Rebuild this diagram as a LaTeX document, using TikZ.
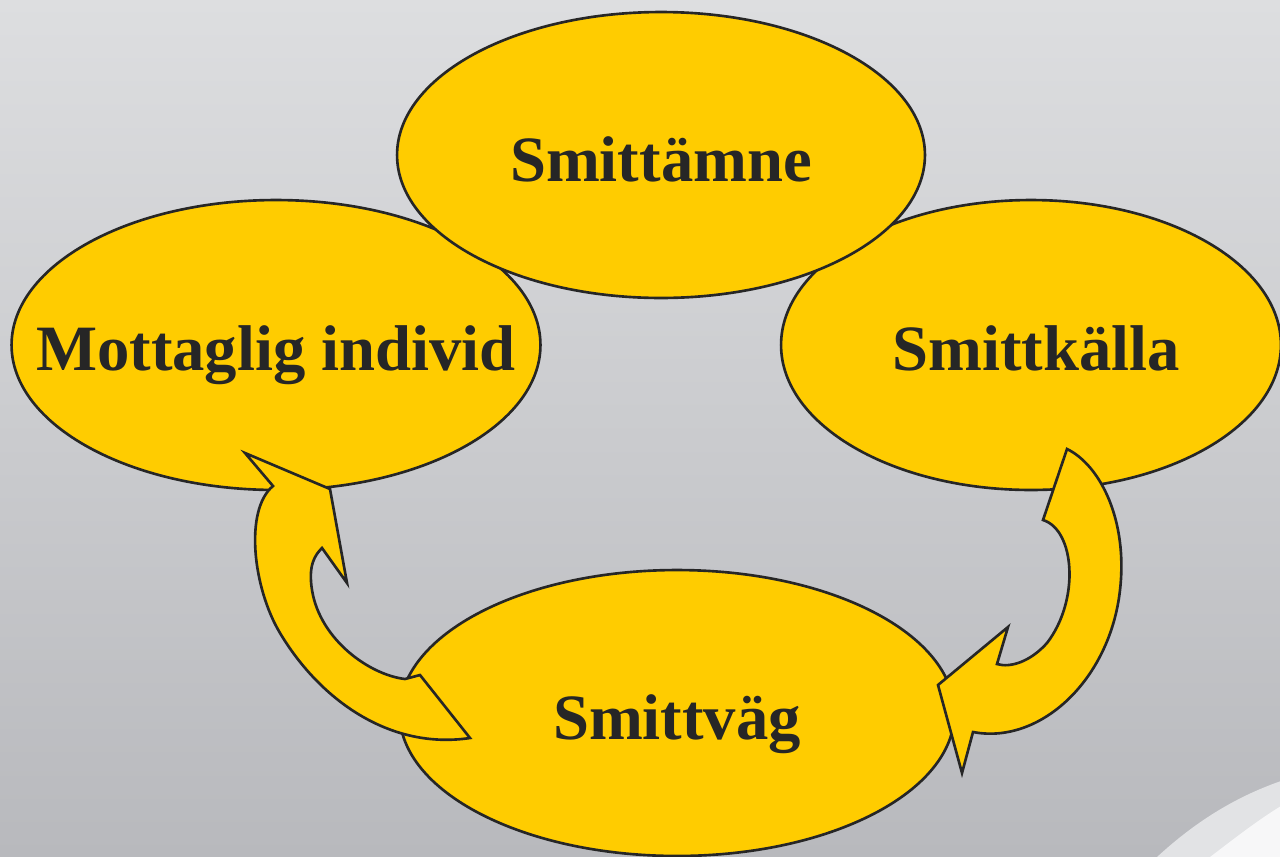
\documentclass[tikz,border=0pt]{standalone}
\usepackage{fontspec}
\setmainfont{Liberation Serif}
\usetikzlibrary{shapes.geometric}
\definecolor{bgtop}{RGB}{221,222,224}
\definecolor{bgbot}{RGB}{184,185,189}
\definecolor{band}{RGB}{226,227,229}
\definecolor{swhite}{RGB}{247,247,248}
\definecolor{gold}{RGB}{255,204,0}
\definecolor{ink}{RGB}{38,38,38}
\begin{document}
\begin{tikzpicture}[x=0.02cm,y=-0.02cm,
  blob/.style={ellipse, draw=ink, fill=gold, line width=1.5pt, inner sep=0pt},
  lbl/.style={anchor=base, text=ink, font=\fontsize{36.8}{40}\selectfont\bfseries, inner sep=0pt},
  arrowshape/.style={draw=ink, fill=gold, line width=1.5pt, line join=miter}]
\useasboundingbox (0,0) rectangle (1280,856);
\clip (0,0) rectangle (1280,856);
% background
\shade[top color=bgtop, bottom color=bgbot] (0,0) rectangle (1280,856);
\fill[band] (1157,857) .. controls (1195,822) and (1235,797) .. (1281,781) -- (1281,857) -- cycle;
\fill[swhite] (1210,857) .. controls (1235,838) and (1258,820) .. (1281,806) -- (1281,857) -- cycle;
% ellipses
\node[blob, minimum width=10.58cm, minimum height=5.8cm] (mott) at (276,345) {};
\node[blob, minimum width=10.0cm, minimum height=5.8cm] (kall) at (1031,345) {};
\node[blob, minimum width=10.56cm, minimum height=5.72cm] (amne) at (661,155) {};
\node[blob, minimum width=11.1cm, minimum height=5.72cm] (vag) at (677,713) {};
% labels
\node[lbl] (tamne) at (661,181) {Smittämne};
\node[lbl] (tmott) at (276,370) {Mottaglig individ};
\node[lbl] (tkall) at (1036,370) {Smittkälla};
\node[lbl] (tvag) at (677,739) {Smittväg};
% left curved arrow (Smittväg -> Mottaglig individ)
\path[arrowshape] (245,453) -- (273,486)
  .. controls (244,510) and (253,588) .. (280,633)
  .. controls (320,700) and (390,750) .. (470,738)
  -- (420,675) -- (405,679)
  .. controls (370,675) and (320,640) .. (312,590)
  .. controls (308,565) and (315,555) .. (322,548)
  -- (347,583) -- (330,489) -- cycle;
% right curved arrow (Smittkälla -> Smittväg)
\path[arrowshape] (1067,449) -- (1043,520)
  .. controls (1075,530) and (1080,600) .. (1047,643)
  .. controls (1030,662) and (1010,668) .. (997,664)
  -- (1008,627) -- (938,685) -- (962,773) -- (973,732)
  .. controls (1040,745) and (1110,680) .. (1120,590)
  .. controls (1128,520) and (1100,465) .. (1067,449) -- cycle;
\end{tikzpicture}
\end{document}
